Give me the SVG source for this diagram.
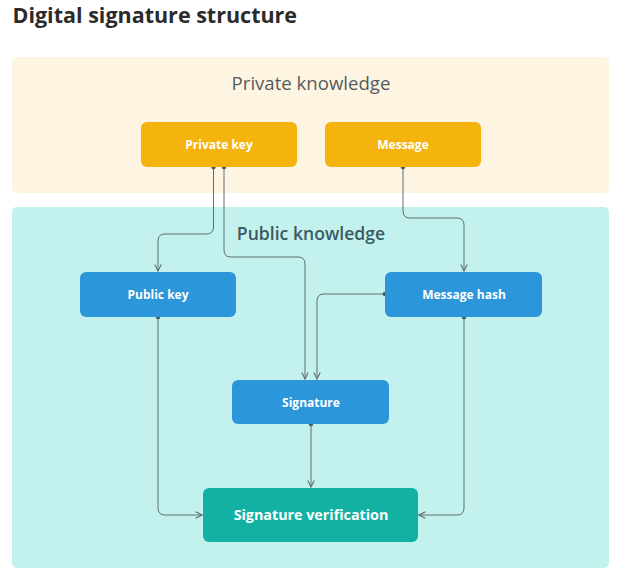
<svg xmlns="http://www.w3.org/2000/svg" width="622" height="576" viewBox="0 0 622 576">
<style>
.title{font-family:"Open Sans","Liberation Sans",sans-serif;font-weight:700;font-size:21.5px;fill:#2b2b2b}
.panel-label{font-family:"Open Sans","Liberation Sans",sans-serif;font-size:18.6px;text-anchor:middle}
.public-label{font-weight:600;font-size:17.6px}
.node-label{font-family:"Open Sans","Liberation Sans",sans-serif;font-weight:700;font-size:12px;fill:#ffffff;text-anchor:middle}
.big-label{font-family:"Open Sans","Liberation Sans",sans-serif;font-weight:700;font-size:14.3px;fill:#ffffff;text-anchor:middle}
.yellow{fill:#F5B30E}
.blue{fill:#2C96DA}
.teal{fill:#13B1A4}
.conn{fill:none;stroke:#5E6E72;stroke-width:1}
.dot{fill:#4A5A5E}
</style>
<defs>
<marker id="arrow" viewBox="0 0 10 10" refX="9" refY="5" markerWidth="8" markerHeight="8" markerUnits="userSpaceOnUse" orient="auto">
<path d="M1,1 L9,5 L1,9" fill="none" stroke="#5E6E72" stroke-width="1.4"/>
</marker>
</defs>
<rect width="622" height="576" fill="#ffffff"/>
<text class="title" x="12.5" y="23">Digital signature structure</text>
<g id="panel-private">
<rect x="12" y="57" width="597" height="136" rx="5" fill="#FDF5E2"/>
<text class="panel-label" x="311" y="90" fill="#555b5e">Private knowledge</text>
</g>
<g id="panel-public">
<rect x="12" y="207" width="597" height="361" rx="5" fill="#C3F2EE"/>
<text class="panel-label public-label" x="311" y="239.5" fill="#3C5A61">Public knowledge</text>
</g>
<g id="connectors">
<path class="conn" d="M213.5,167 V227 Q213.5,234 206.5,234 H165 Q158,234 158,241 V271" marker-end="url(#arrow)"/>
<path class="conn" d="M224,167 V250 Q224,257 231,257 H298 Q305,257 305,264 V379" marker-end="url(#arrow)"/>
<path class="conn" d="M403,167 V211 Q403,218 410,218 H457 Q464,218 464,225 V271" marker-end="url(#arrow)"/>
<path class="conn" d="M385,294 H324 Q317,294 317,301 V379" marker-end="url(#arrow)"/>
<path class="conn" d="M311,424 V487" marker-end="url(#arrow)"/>
<path class="conn" d="M158,317 V508 Q158,515 165,515 H202" marker-end="url(#arrow)"/>
<path class="conn" d="M464,317 V508 Q464,515 457,515 H419" marker-end="url(#arrow)"/>
<circle class="dot" cx="213.5" cy="167" r="2.3"/>
<circle class="dot" cx="224" cy="167" r="2.3"/>
<circle class="dot" cx="403" cy="167" r="2.3"/>
<circle class="dot" cx="385" cy="294" r="2.3"/>
<circle class="dot" cx="311" cy="424" r="2.3"/>
<circle class="dot" cx="158" cy="317" r="2.3"/>
<circle class="dot" cx="464" cy="317" r="2.3"/>
</g>
<g id="node-private-key">
<rect class="yellow" x="141" y="122" width="156" height="45" rx="6"/>
<text class="node-label" x="219" y="148.5">Private key</text>
</g>
<g id="node-message">
<rect class="yellow" x="325" y="122" width="156" height="45" rx="6"/>
<text class="node-label" x="403" y="148.5">Message</text>
</g>
<g id="node-public-key">
<rect class="blue" x="80" y="272" width="156" height="45" rx="6"/>
<text class="node-label" x="158" y="298.5">Public key</text>
</g>
<g id="node-message-hash">
<rect class="blue" x="385" y="272" width="157" height="45" rx="6"/>
<text class="node-label" x="464" y="298.5">Message hash</text>
</g>
<g id="node-signature">
<rect class="blue" x="232" y="380" width="157" height="44" rx="6"/>
<text class="node-label" x="311" y="406.5">Signature</text>
</g>
<g id="node-signature-verification">
<rect class="teal" x="203" y="488" width="215" height="54" rx="6"/>
<text class="big-label" x="311" y="520">Signature verification</text>
</g>
</svg>
